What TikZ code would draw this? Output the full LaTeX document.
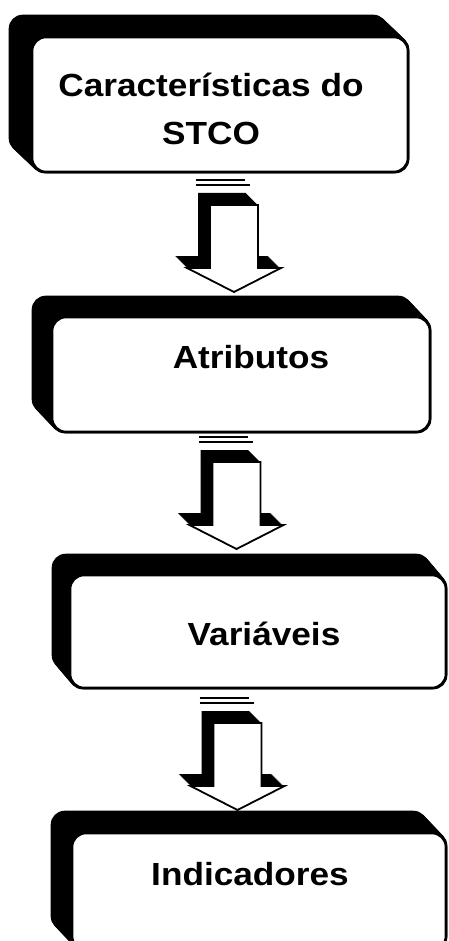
\documentclass[tikz,border=0pt]{standalone}
\usepackage{fontspec}
\setmainfont{Liberation Sans}[FakeStretch=1.1]
\pgfdeclarelayer{bg}
\pgfsetlayers{bg,main}
\tikzset{
  face/.style={rectangle, draw=black, line width=2.6pt, fill=white, rounded corners=14pt, inner sep=0pt},
  lbl/.style={font=\bfseries\fontsize{32}{48}\selectfont, anchor=base, inner sep=0pt, align=center},
  arrowface/.style={draw=black, line width=1.8pt, fill=white, line join=miter},
  stripe/.style={draw=black, line width=1.6pt},
  barrow/.pic={
    \foreach \s in {1,...,12}{
      \fill[black] (-24-\s,-\s) -- (-24-\s,63-\s) -- (-47-\s,63-\s) -- (-\s,87-\s) -- (47-\s,63-\s) -- (24-\s,63-\s) -- (24-\s,-\s) -- cycle;
    }
    \draw[arrowface] (-24,0) -- (-24,63) -- (-47,63) -- (0,87) -- (47,63) -- (24,63) -- (24,0) -- cycle;
    \draw[stripe] (-38,-25) -- (11,-25);
    \draw[stripe] (-38,-20) -- (16,-20);
  }
}
\begin{document}
\begin{tikzpicture}[x=1pt,y=-1pt]
\useasboundingbox (0,0) rectangle (448,941);
\clip (0,0) rectangle (448,941);
% boxes (front faces)
\node[face, minimum width=376pt, minimum height=135pt] (b1) at (220,104.5) {};
\node[face, minimum width=378pt, minimum height=115pt] (b2) at (241,374.5) {};
\node[face, minimum width=376pt, minimum height=113pt] (b3) at (258,631.5) {};
\node[face, minimum width=374pt, minimum height=117pt] (b4) at (259,891.5) {};
% extruded shadows
\begin{pgfonlayer}{bg}
\foreach \n/\dx/\dy in {b1/22/21, b2/19/20, b3/17/20, b4/20/21}{
  \foreach \s in {0,...,20}{
    \fill[black, rounded corners=14pt] ([shift={(-\s*\dx/20,-\s*\dy/20)}]\n.south west) rectangle ([shift={(-\s*\dx/20,-\s*\dy/20)}]\n.north east);
  }
}
\end{pgfonlayer}
% labels
\node[lbl] (t1) at (211,145) {Características do\\STCO};
\node[lbl] (t2) at (251,368) {Atributos};
\node[lbl] (t3) at (264,645) {Variáveis};
\node[lbl] (t4) at (250,885) {Indicadores};
% block arrows between boxes
\coordinate (a1) at (234,205);
\coordinate (a2) at (236.5,462);
\coordinate (a3) at (237.5,723);
\pic at (a1) {barrow};
\pic at (a2) {barrow};
\pic at (a3) {barrow};
\end{tikzpicture}
\end{document}
